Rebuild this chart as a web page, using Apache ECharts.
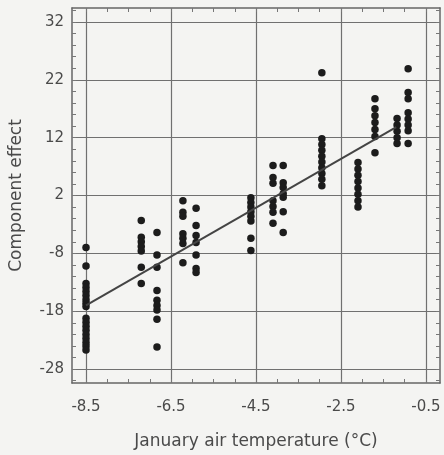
<!DOCTYPE html>
<html>
<head>
<meta charset="utf-8">
<script src="https://cdn.jsdelivr.net/npm/echarts@6/dist/echarts.min.js"></script>
<style>
  html, body { margin: 0; padding: 0; background: #f4f4f2; }
  #chart { width: 444px; height: 455px; }
</style>
</head>
<body>
<div id="chart"></div>
<script>
// temperature of each column of points
const clusterX = [-8.5, -7.2, -6.83, -6.22, -5.91, -4.62, -4.1, -3.86, -2.95, -2.1, -1.7, -1.18, -0.92]
// component effect values in each column
const clusterY = [
    [-7, -10.2, -13.2, -13.9, -14.6, -15.3, -16.0, -16.6, -17.2, -19.2, -19.9, -20.6, -21.3, -22.0, -22.7, -23.4, -24.0, -24.7],
    [-2.3, -5.2, -6.0, -6.8, -7.6, -10.4, -13.2],
    [-4.4, -8.3, -10.4, -14.4, -16.1, -17.0, -17.8, -19.4, -24.2],
    [1.1, -0.9, -1.6, -4.6, -5.4, -6.3, -9.6],
    [-0.2, -3.2, -4.9, -6.1, -8.3, -10.6, -11.3],
    [1.6, 0.8, 0, -0.8, -1.6, -2.4, -5.4, -7.5],
    [7.2, 5.1, 4.1, 1.1, 0.1, -0.9, -2.8],
    [7.2, 4.2, 3.4, 2.3, 1.7, -0.8, -4.4],
    [23.2, 11.8, 10.8, 9.8, 8.8, 7.8, 6.8, 5.8, 4.8, 3.7],
    [7.7, 6.6, 5.5, 4.4, 3.3, 2.2, 1.1, 0.0],
    [18.7, 17.0, 15.8, 14.6, 13.4, 12.2, 9.4],
    [15.3, 14.2, 13.1, 12.0, 11.0],
    [23.9, 19.8, 18.7, 16.3, 15.2, 14.2, 13.2, 11.0]
]
// fitted line end points
const fitX = [-8.5, -1.2]
const fitY = [-17, 13.8]

const xTicks = [-8.5, -6.5, -4.5, -2.5, -0.5]
const yTicks = [-28, -18, -8, 2, 12, 22, 32]

const xMinor = []
for (let v = -8.5; v <= -0.5 + 1e-9; v += 0.5) xMinor.push(+v.toFixed(1))
const yMinor = []
for (let v = -30; v <= 34; v += 2) yMinor.push(v)

const points = []
clusterX.forEach((x, i) => clusterY[i].forEach(y => points.push([x, y])))

const textColor = '#4a4a4a'
const gridColor = '#707070'
const font = 'DejaVu Sans'

const xMin = -8.83, xMax = -0.17, yMin = -30.4, yMax = 34.4

const frameAxis = (type, pos, vals) => ({
    type: 'value', position: pos, min: type === 'x' ? xMin : yMin, max: type === 'x' ? xMax : yMax,
    axisLine: { show: true, onZero: false, lineStyle: { color: '#666', width: 1.5 } },
    axisTick: { show: true, inside: true, length: 4, customValues: vals, lineStyle: { color: '#777' } },
    axisLabel: { show: false }, splitLine: { show: false }
})

const myChart = echarts.init(document.getElementById('chart'))
myChart.setOption({
    backgroundColor: '#f4f4f2',
    animation: false,
    grid: { left: 72, right: 4, top: 8, bottom: 72 },
    xAxis: [
        {
            type: 'value', min: xMin, max: xMax, position: 'bottom',
            name: 'January air temperature (°C)', nameLocation: 'middle', nameGap: 50,
            nameTextStyle: { color: textColor, fontSize: 17, fontFamily: font },
            axisLine: { show: false },
            axisTick: { show: false, customValues: xTicks },
            axisLabel: { customValues: xTicks, color: textColor, fontSize: 15, fontFamily: font, margin: 17,
                formatter: v => v.toFixed(1) },
            splitLine: { show: true, lineStyle: { color: gridColor, width: 1.2 } }
        },
        frameAxis('x', 'bottom', xMinor),
        frameAxis('x', 'top', xMinor)
    ],
    yAxis: [
        {
            type: 'value', min: yMin, max: yMax, position: 'left',
            name: 'Component effect', nameLocation: 'middle', nameGap: 47,
            nameTextStyle: { color: textColor, fontSize: 17, fontFamily: font },
            axisLine: { show: false },
            axisTick: { show: false, customValues: yTicks },
            axisLabel: { customValues: yTicks, color: textColor, fontSize: 15, fontFamily: font, margin: 8 },
            splitLine: { show: true, lineStyle: { color: gridColor, width: 1.2 } }
        },
        frameAxis('y', 'left', yMinor),
        frameAxis('y', 'right', yMinor)
    ],
    series: [
        {
            type: 'scatter', xAxisIndex: 0, yAxisIndex: 0,
            data: points, symbol: 'circle', symbolSize: 7.5,
            itemStyle: { color: '#1c1c1c', opacity: 1 }
        },
        {
            type: 'line', xAxisIndex: 0, yAxisIndex: 0,
            data: fitX.map((x, i) => [x, fitY[i]]), symbol: 'none',
            lineStyle: { color: '#444', width: 2 }
        }
    ]
})
</script>
</body>
</html>
